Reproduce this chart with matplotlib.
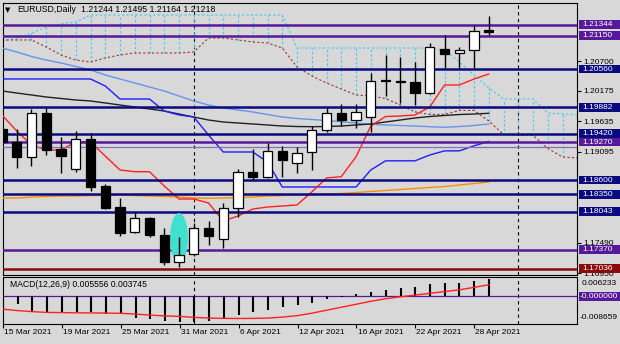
import matplotlib
matplotlib.use("Agg")
import matplotlib.pyplot as plt
from matplotlib.patches import Rectangle, Ellipse
from matplotlib import transforms

plt.rcParams['font.family'] = ['Liberation Sans', 'DejaVu Sans']

# daily EURUSD candles, 15 Mar 2021 .. 29 Apr 2021
opens = [1.19501, 1.19266, 1.19001, 1.19778, 1.19142, 1.18789, 1.19324, 1.18494, 1.18118, 1.17676,
         1.17923, 1.17628, 1.17157, 1.17287, 1.17757, 1.17557, 1.18114, 1.18747, 1.18658, 1.19118,
         1.18895, 1.19089, 1.19483, 1.19789, 1.19660, 1.19718, 1.20363, 1.20344, 1.20337, 1.20142,
         1.20909, 1.20839, 1.20897, 1.21244]
highs = [1.19536, 1.19496, 1.19849, 1.19867, 1.19354, 1.19466, 1.19425, 1.18529, 1.18277, 1.18040,
         1.17946, 1.17747, 1.17598, 1.17840, 1.17881, 1.18199, 1.18798, 1.19144, 1.19248, 1.19206,
         1.19178, 1.19554, 1.19877, 1.19938, 1.19938, 1.20485, 1.20809, 1.20773, 1.20690, 1.21015,
         1.21162, 1.20955, 1.21339, 1.21495]
lows = [1.19130, 1.18817, 1.18847, 1.19042, 1.18729, 1.18747, 1.18411, 1.18088, 1.17611, 1.17664,
        1.17602, 1.17098, 1.17068, 1.17257, 1.17452, 1.17393, 1.17946, 1.18605, 1.18630, 1.18658,
        1.18718, 1.18777, 1.19453, 1.19554, 1.19513, 1.19453, 1.20084, 1.19955, 1.19925, 1.20119,
        1.20574, 1.20574, 1.20574, 1.21164]
closes = [1.19271, 1.19001, 1.19778, 1.19130, 1.19029, 1.19324, 1.18471, 1.18111, 1.17669, 1.17934,
          1.17623, 1.17157, 1.17275, 1.17761, 1.17611, 1.18111, 1.18747, 1.18653, 1.19118, 1.18953,
          1.19082, 1.19483, 1.19778, 1.19660, 1.19807, 1.20358, 1.20349, 1.20332, 1.20132, 1.20945,
          1.20826, 1.20897, 1.21238, 1.21218]

# ichimoku
tenkan = [1.19749, 1.19466, 1.19219, 1.19130, 1.19130, 1.19272, 1.19272, 1.19024, 1.18777, 1.18747,
          1.18747, 1.18494, 1.18265, 1.18265, 1.18194, 1.17876, 1.17964, 1.18088, 1.18123, 1.18141,
          1.18159, 1.18388, 1.18636, 1.18659, 1.19010, 1.19554, 1.19722, 1.19731, 1.19749, 1.19890,
          1.20279, 1.20279, 1.20385, 1.20473]
kijun = [1.20385, 1.20385, 1.20385, 1.20385, 1.20385, 1.20385, 1.20385, 1.20261, 1.20031, 1.20031,
         1.20031, 1.19819, 1.19749, 1.19713, 1.19395, 1.19095, 1.19095, 1.19095, 1.18918, 1.18477,
         1.18477, 1.18477, 1.18477, 1.18477, 1.18477, 1.18777, 1.18939, 1.18939, 1.18939, 1.19042,
         1.19115, 1.19115, 1.19204, 1.19282]
span_a = [1.21074, 1.21074, 1.21074, 1.20950, 1.20809, 1.20720, 1.20685, 1.20756, 1.20809, 1.20844,
          1.20844, 1.20844, 1.20844, 1.20862, 1.21109, 1.21109, 1.21074, 1.21038, 1.21021, 1.20932,
          1.20597, 1.20438, 1.20314, 1.20208, 1.20102, 1.20084, 1.20040, 1.19926, 1.19802, 1.19758,
          1.19758, 1.19829, 1.19829, 1.19643, 1.19404, 1.19389, 1.19389, 1.19157, 1.19007, 1.18989]
span_b = [1.21056, 1.21100, 1.21197, 1.21303, 1.21356, 1.21392, 1.21515, 1.21515, 1.21515, 1.21515,
          1.21515, 1.21515, 1.21515, 1.21515, 1.21515, 1.21515, 1.21515, 1.21515, 1.21515, 1.21515,
          1.20932, 1.20932, 1.20932, 1.20932, 1.20932, 1.20932, 1.20932, 1.20932, 1.20932, 1.20932,
          1.20897, 1.20685, 1.20455, 1.20226, 1.20031, 1.20031, 1.20031, 1.19784, 1.19766, 1.19749]

# moving averages
ma_blue = [1.20932, 1.20862, 1.20782, 1.20720, 1.20667, 1.20606, 1.20544, 1.20455, 1.20385, 1.20314,
           1.20243, 1.20173, 1.20084, 1.19996, 1.19925, 1.19872, 1.19837, 1.19802, 1.19757, 1.19713,
           1.19687, 1.19669, 1.19651, 1.19630, 1.19607, 1.19584, 1.19572, 1.19563, 1.19554, 1.19542,
           1.19531, 1.19545, 1.19563, 1.19590]
ma_black = [1.20173, 1.20137, 1.20102, 1.20067, 1.20040, 1.20014, 1.19996, 1.19961, 1.19925, 1.19890,
            1.19855, 1.19819, 1.19766, 1.19713, 1.19660, 1.19625, 1.19607, 1.19590, 1.19572, 1.19554,
            1.19545, 1.19542, 1.19545, 1.19554, 1.19572, 1.19590, 1.19625, 1.19660, 1.19696, 1.19722,
            1.19740, 1.19757, 1.19766, 1.19779]
ma_orange = [1.18282, 1.18282, 1.18300, 1.18309, 1.18317, 1.18317, 1.18326, 1.18326, 1.18335, 1.18326,
             1.18317, 1.18309, 1.18300, 1.18282, 1.18277, 1.18282, 1.18291, 1.18300, 1.18317, 1.18326,
             1.18335, 1.18344, 1.18353, 1.18362, 1.18379, 1.18397, 1.18415, 1.18432, 1.18450, 1.18468,
             1.18485, 1.18512, 1.18538, 1.18565]

# MACD(12,26,9)
macd_hist = [-0.00406, -0.00248, -0.00479, -0.00511, -0.00511, -0.00492, -0.00511, -0.00565, -0.00533, -0.00692,
             -0.00724, -0.00778, -0.00810, -0.00829, -0.00778, -0.00702, -0.00597, -0.00511, -0.00429, -0.00352,
             -0.00279, -0.00194, -0.00089, -0.00020, 0.00070, 0.00156, 0.00206, 0.00260, 0.00302, 0.00387,
             0.00419, 0.00441, 0.00492, 0.005556]
macd_signal = [-0.00406, -0.00454, -0.00486, -0.00511, -0.00517, -0.00524, -0.00527, -0.00533, -0.00540, -0.00565,
               -0.00597, -0.00622, -0.00638, -0.00670, -0.00692, -0.00702, -0.00705, -0.00702, -0.00692, -0.00660,
               -0.00613, -0.00533, -0.00438, -0.00343, -0.00248, -0.00152, -0.00073, -0.00010, 0.00044, 0.00102,
               0.00156, 0.00213, 0.00292, 0.003745]

date_ticks = [0, 4, 8, 12, 16, 20, 24, 28, 32]
date_labels = ["15 Mar 2021", "19 Mar 2021", "25 Mar 2021", "31 Mar 2021", "6 Apr 2021",
               "12 Apr 2021", "16 Apr 2021", "22 Apr 2021", "28 Apr 2021"]
month_starts = [13, 35]

levels = [1.21344, 1.21150, 1.20560, 1.19882, 1.19420, 1.19270, 1.18600, 1.18350, 1.18043, 1.17370, 1.17036]
level_kind = ["p", "p", "n", "n", "n", "p", "n", "n", "n", "p", "r"]
thin_level = 1.19189
# scale labels that are not covered by the level boxes
price_ticks = [1.20700, 1.20175, 1.19635, 1.19095, 1.17490, 1.16950]

BG = '#D8D8D8'
PURPLE = '#55199A'
NAVY = '#0A0A80'
DARKRED = '#8B0A0A'
kind_color = {"p": PURPLE, "n": NAVY, "r": DARKRED}

W, H = 620, 344
fig = plt.figure(figsize=(6.2, 3.44), dpi=100, facecolor=BG)
ax = fig.add_axes([3 / W, 1 - 275 / H, 574 / W, 272.5 / H], facecolor=BG)
ax2 = fig.add_axes([3 / W, 1 - 323.5 / H, 574 / W, 46.5 / H], facecolor=BG)

for a in (ax, ax2):
    a.set_xlim(0.068, 38.98)
    for s in a.spines.values():
        s.set_color('black')
        s.set_linewidth(0.8)
    for m in month_starts:
        a.axvline(m, color='black', lw=0.8, ls=(0, (3, 3)), zorder=1)

ax.set_ylim(1.16922, 1.21736)

# kumo: hatch between the spans
for i in range(len(span_a)):
    ax.vlines(i, min(span_a[i], span_b[i]), max(span_a[i], span_b[i]),
              color='#3CC8F0', lw=0.8, linestyles=(0, (2, 2)), zorder=2)
ax.plot(range(len(span_b)), span_b, color='#3CC8F0', lw=0.8, ls=(0, (2, 2)), zorder=2)
ax.plot(range(len(span_a)), span_a, color='#A03030', lw=0.8, ls=(0, (2, 2)), zorder=2)

x = list(range(len(closes)))
ax.plot(x, ma_orange, color='#FF8C00', lw=1, zorder=3)
ax.plot(x, ma_blue, color='#6495ED', lw=1, zorder=3)
ax.plot(x, ma_black, color='#202020', lw=1, zorder=3)
ax.plot(x, kijun, color='#1E1EFF', lw=1, zorder=3)
ax.plot(x, tenkan, color='#FF2020', lw=1, zorder=3)

# horizontal levels
for lv, k in zip(levels, level_kind):
    ax.axhline(lv, color=kind_color[k], lw=1.8, zorder=4)
ax.axhline(thin_level, color='#8A6CC0', lw=0.9, zorder=4)

# highlight of the 31 Mar candle
ax.add_patch(Ellipse((12, 1.17575), 1.22, 0.00883, facecolor='#40E0D0', edgecolor='none', zorder=5))

# candles
for i in x:
    o, h, l, c = opens[i], highs[i], lows[i], closes[i]
    ax.vlines(i, l, h, color='black', lw=1, zorder=6)
    fc = 'white' if c >= o else 'black'
    ax.add_patch(Rectangle((i - 0.31, min(o, c)), 0.62, abs(c - o), facecolor=fc,
                           edgecolor='black', lw=0.9, zorder=7))

# right price scale
ax.set_xticks([])
ax.set_yticks(price_ticks)
ax.set_yticklabels(["%.5f" % t for t in price_ticks])
ax.tick_params(axis='y', left=False, labelleft=False, right=True, labelright=True,
               length=3, width=0.8, pad=1.5, labelsize=6.0, colors='black')

blend = transforms.blended_transform_factory(ax.transAxes, ax.transData)
half = 4.4 * (1.21736 - 1.16922) / 272.5
for lv, k in zip(levels, level_kind):
    ax.add_patch(Rectangle((1 + 2 / 574, lv - half), 45 / 574, 2 * half, transform=blend,
                           facecolor=kind_color[k], edgecolor='none', clip_on=False, zorder=9))
    ax.text(1 + 5 / 574, lv, "%.5f" % lv, transform=blend, color='white', fontsize=6.0,
            va='center', ha='left', clip_on=False, zorder=10)

# title
fig.text(5 / W, 1 - 10 / H, "\u25bc", fontsize=5, va='center', ha='left', family='DejaVu Sans')
fig.text(17 / W, 1 - 10 / H, "EURUSD,Daily", fontsize=6.3, va='center', ha='left')
fig.text(81 / W, 1 - 10 / H, "1.21244 1.21495 1.21164 1.21218", fontsize=6.3, va='center', ha='left')

# MACD panel
ax2.set_ylim(-0.008659, 0.006233)
ax2.axhline(0, color=PURPLE, lw=0.9, zorder=2)
ax2.vlines(x, 0, macd_hist, color='black', lw=1.5, zorder=3)
ax2.plot(x, macd_signal, color='#FF2020', lw=1, zorder=4)
ax2.set_yticks([])
ax2.set_xticks(date_ticks)
ax2.tick_params(axis='x', length=3, width=0.8, direction='out', labelbottom=False)
ax2.text(7 / 574, 0.83, "MACD(12,26,9) 0.005556 0.003745", transform=ax2.transAxes,
         fontsize=6.2, va='center', ha='left')

blend2 = transforms.blended_transform_factory(ax2.transAxes, ax2.transData)
ax2.text(1 + 5 / 574, 0.85, "0.006233", transform=ax2.transAxes, fontsize=6.0,
         va='center', ha='left', clip_on=False)
ax2.text(1 + 3 / 574, 0.12, "-0.008659", transform=ax2.transAxes, fontsize=6.0,
         va='center', ha='left', clip_on=False)
zhalf = 4.4 * (0.006233 + 0.008659) / 46.5
ax2.add_patch(Rectangle((1 + 2 / 574, -zhalf), 45 / 574, 2 * zhalf, transform=blend2,
                        facecolor=PURPLE, edgecolor='none', clip_on=False, zorder=9))
ax2.text(1 + 3 / 574, 0, "-0.000000", transform=blend2, color='white', fontsize=6.0,
         va='center', ha='left', clip_on=False, zorder=10)

# date labels
blend3 = transforms.blended_transform_factory(ax2.transData, fig.transFigure)
for t, lab in zip(date_ticks, date_labels):
    ax2.text(t + 0.08, 1 - 333 / H, lab, transform=blend3, fontsize=6.0,
             va='center', ha='left', clip_on=False)

fig.savefig("out.png", dpi=100, facecolor=BG)
